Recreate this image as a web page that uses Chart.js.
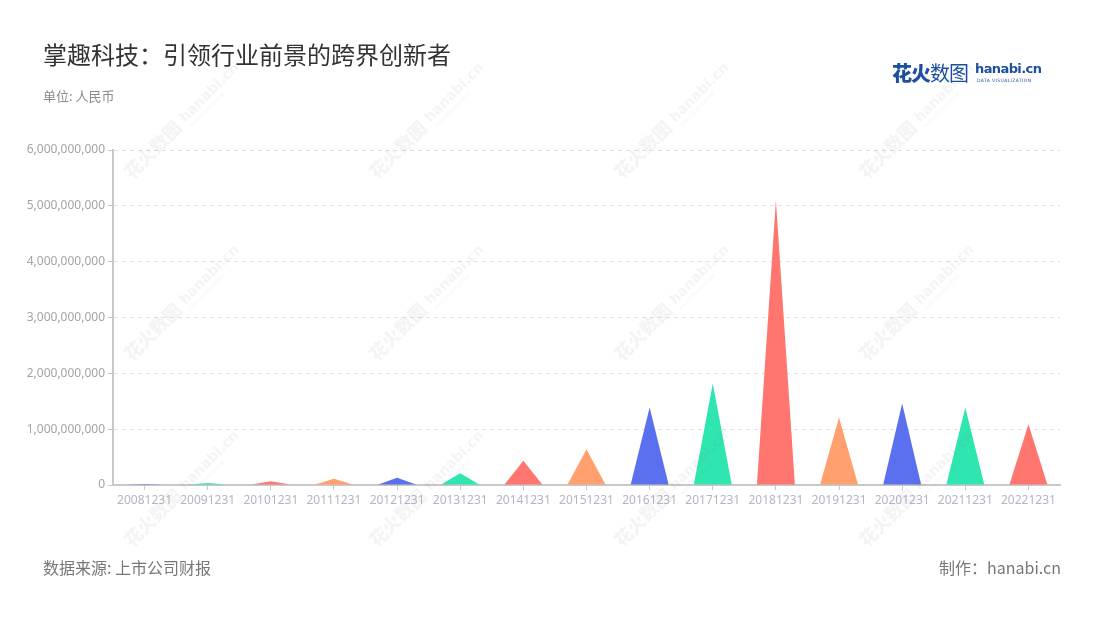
<!DOCTYPE html>
<html>
<head>
<meta charset="utf-8">
<script src="https://cdn.jsdelivr.net/npm/chart.js@4"></script>
<style>
  html, body { margin: 0; padding: 0; background: #fff; }
  body { width: 1100px; height: 620px; position: relative; overflow: hidden;
         font-family: "Noto Sans CJK SC", "Noto Sans", sans-serif; }
  #chart { position: absolute; left: 0; top: 0; }
  .title { position: absolute; left: 43px; top: 36px; font-size: 24px; color: #333; }
  .unit { position: absolute; left: 43px; top: 86px; font-size: 13px; color: #8a8a8a; }
  .source { position: absolute; left: 43px; top: 555px; font-size: 16px; color: #777; }
  .maker { position: absolute; right: 39px; top: 555px; font-size: 16px; color: #777; }
  .logo { position: absolute; left: 892px; top: 58px; height: 30px; }
  .logo .cn { position: absolute; left: 0; top: 0; font-size: 20px; color: #1d4f9f; letter-spacing: -1px; white-space: nowrap; }
  .logo .cn b { font-weight: 900; }
  .logo .en { position: absolute; left: 83px; top: 3px; font-size: 13px; font-weight: 700; color: #1d4f9f; font-family: "DejaVu Sans", sans-serif; letter-spacing: -0.6px; white-space: nowrap; }
  .logo .sub { position: absolute; left: 85px; top: 20px; font-size: 4.5px; color: #1d4f9f; font-family: "DejaVu Sans", sans-serif; letter-spacing: 0.4px; white-space: nowrap; }
</style>
</head>
<body>
<canvas id="chart" width="1100" height="620"></canvas>
<div class="title">掌趣科技：引领行业前景的跨界创新者</div>
<div class="unit">单位: 人民币</div>
<div class="logo"><span class="cn"><b>花火</b>数图</span><span class="en">hanabi.cn</span><span class="sub">DATA VISUALIZATION</span></div>
<div class="source">数据来源: 上市公司财报</div>
<div class="maker">制作：hanabi.cn</div>
<script>
// 数据
const years = ["20081231", "20091231", "20101231", "20111231", "20121231", "20131231", "20141231", "20151231",
  "20161231", "20171231", "20181231", "20191231", "20201231", "20211231", "20221231"];
const values = [20000000, 36000000, 65000000, 113000000, 130000000, 210000000, 435000000, 640000000,
  1390000000, 1820000000, 5100000000, 1210000000, 1460000000, 1390000000, 1090000000];
const palette = ["#5a70ee", "#2fe6b0", "#ff7670", "#ffa06e"];
const yTicks = [0, 1000000000, 2000000000, 3000000000, 4000000000, 5000000000, 6000000000];

const barColors = values.map((v, i) => palette[i % palette.length]);

// disegna triangoli al posto delle barre
const trianglePlugin = {
  id: "triangles",
  afterDatasetsDraw(chart) {
    const ctx = chart.ctx;
    const meta = chart.getDatasetMeta(0);
    meta.data.forEach((bar, i) => {
      const half = bar.width / 2;
      ctx.save();
      ctx.fillStyle = barColors[i];
      ctx.beginPath();
      ctx.moveTo(bar.x - half, bar.base);
      ctx.lineTo(bar.x, bar.y);
      ctx.lineTo(bar.x + half, bar.base);
      ctx.closePath();
      ctx.fill();
      ctx.restore();
    });
  }
};

// filigrana
const watermarkPlugin = {
  id: "watermark",
  afterDraw(chart) {
    const ctx = chart.ctx;
    const cols = [132, 377, 622, 867];
    const rows = [180, 362, 548];
    ctx.save();
    ctx.fillStyle = "rgba(120,120,120,0.08)";
    rows.forEach(y => {
      cols.forEach(x => {
        ctx.save();
        ctx.translate(x, y);
        ctx.rotate(-Math.PI / 4);
        ctx.font = "900 18px 'Noto Sans CJK SC'";
        ctx.textBaseline = "alphabetic";
        ctx.fillText("花火数图", 0, 0);
        ctx.font = "bold 14px 'DejaVu Sans'";
        ctx.fillText("hanabi.cn", 78, -3);
        ctx.font = "4.5px 'DejaVu Sans'";
        ctx.fillText("DATA VISUALIZATION", 79, 5);
        ctx.restore();
      });
    });
    ctx.restore();
  }
};

new Chart(document.getElementById("chart"), {
  type: "bar",
  data: {
    labels: years,
    datasets: [{
      data: values,
      backgroundColor: "rgba(0,0,0,0)",
      categoryPercentage: 1,
      barPercentage: 0.6
    }]
  },
  options: {
    responsive: false,
    animation: false,
    layout: { padding: { top: 150, right: 40, left: 0, bottom: 0 } },
    plugins: { legend: { display: false }, tooltip: { enabled: false } },
    scales: {
      x: {
        afterFit(scale) { scale.height = 135; },
        grid: { offset: false, drawOnChartArea: false, tickLength: 5, color: "#c8c8c8", lineWidth: 1 },
        border: { color: "#c8c8c8", width: 2 },
        ticks: { color: "#b2b6c4", font: { size: 12, family: "Noto Sans" }, padding: 3, maxRotation: 0, autoSkip: false }
      },
      y: {
        min: 0,
        max: 6000000000,
        afterFit(scale) { scale.width = 113; },
        afterBuildTicks(scale) { scale.ticks = yTicks.map(v => ({ value: v })); },
        grid: { color: "#e0e0e0", tickLength: 5, tickColor: "#c8c8c8" },
        border: { color: "#c8c8c8", width: 2, dash: [4, 4] },
        ticks: {
          color: "#a4a4a4", font: { size: 12, family: "Noto Sans" }, padding: 3,
          callback: v => v.toLocaleString("en-US")
        }
      }
    }
  },
  plugins: [trianglePlugin, watermarkPlugin]
});
</script>
</body>
</html>
